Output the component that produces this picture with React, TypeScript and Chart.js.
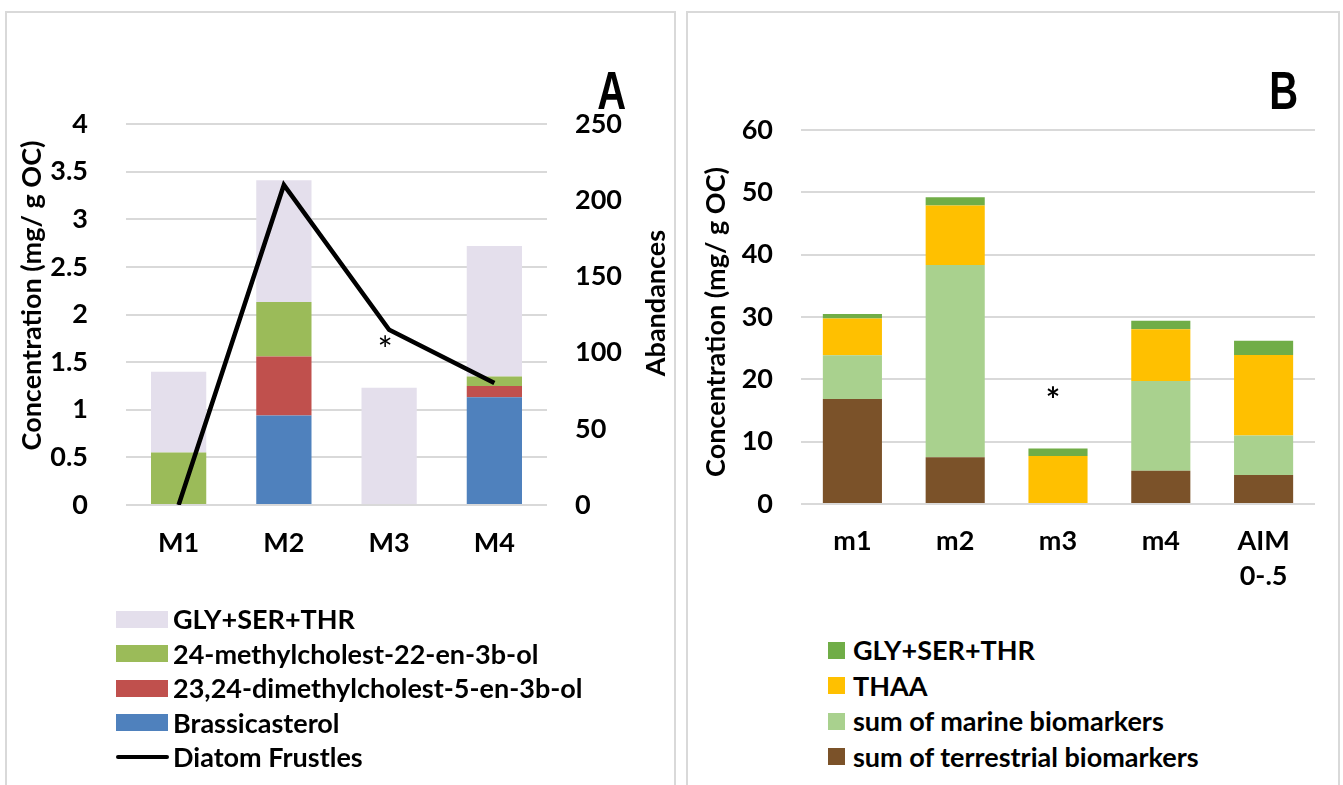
import React, { useEffect, useRef } from 'react';
import { Chart, registerables } from 'chart.js';

Chart.register(...registerables);

const FAMILY = 'Lato, "Open Sans", "Noto Sans", sans-serif';
const LETTER_FAMILY = '"Liberation Sans", Arial, sans-serif';

// ---------- Panel A data ----------
const categoriesA = ['M1', 'M2', 'M3', 'M4'];
const brassicasterol = [0, 0.94, 0, 1.13];
const dimethylcholestenol = [0, 0.62, 0, 0.12];
const methylcholestenol = [0.55, 0.57, 0, 0.1];
const glySerThrA = [0.85, 1.28, 1.23, 1.37];
const diatomFrustles = [0, 210, 115, 80];
const leftTicksA = [0, 0.5, 1, 1.5, 2, 2.5, 3, 3.5, 4];
const rightTicksA = [0, 50, 100, 150, 200, 250];

// ---------- Panel B data ----------
const categoriesB: (string | string[])[] = ['m1', 'm2', 'm3', 'm4', ['AIM', '0-.5']];
const terrestrial = [16.85, 7.5, 0, 5.35, 4.65];
const marine = [7.0, 30.85, 0, 14.4, 6.35];
const thaa = [5.9, 9.55, 7.7, 8.3, 12.9];
const glySerThrB = [0.75, 1.3, 1.2, 1.35, 2.3];
const ticksB = [0, 10, 20, 30, 40, 50, 60];

const COLORS_A = { gly: '#E4DFEC', methyl: '#9BBB59', dimethyl: '#C0504D', brassica: '#4F81BD', line: '#000000' };
const COLORS_B = { gly: '#70AD47', thaa: '#FFC000', marine: '#A9D18E', terr: '#7B5229' };
const GRID = '#D9D9D9';

function fitFontSize(): number {
  try {
    const c = document.createElement('canvas').getContext('2d');
    if (!c) return 26;
    c.font = `bold 100px ${FAMILY}`;
    const w = c.measureText('Concentration (mg/ g OC)').width;
    if (!w) return 26;
    return (100 * 310) / w;
  } catch (e) {
    return 26;
  }
}
const FS = fitFontSize();

Chart.defaults.color = '#000';
Chart.defaults.font.family = FAMILY;

const tickLabel = (list: number[]) => (v: any) => (list.includes(Number(v)) ? String(Number(v)) : '');

const decorPlugin = {
  id: 'decor',
  afterDatasetsDraw(chart: any, _args: any, opts: any) {
    const { ctx, chartArea: ca, scales } = chart;
    ctx.save();
    ctx.fillStyle = '#000';
    (opts.vtitles || []).forEach((t: any) => {
      ctx.save();
      ctx.font = `bold ${FS}px ${FAMILY}`;
      const x = t.side === 'left' ? ca.left + t.dx : ca.right + t.dx;
      const y = (ca.top + ca.bottom) / 2 + t.dy;
      ctx.translate(x, y);
      ctx.rotate(-Math.PI / 2);
      ctx.textAlign = 'center';
      ctx.textBaseline = 'middle';
      ctx.fillText(t.text, 0, 0);
      ctx.restore();
    });
    if (opts.letter) {
      const l = opts.letter;
      ctx.save();
      ctx.font = `bold ${l.size}px ${LETTER_FAMILY}`;
      ctx.textAlign = 'right';
      ctx.textBaseline = 'alphabetic';
      ctx.translate(ca.right + l.dx, ca.top + l.dy);
      ctx.scale(l.sx, 1);
      ctx.fillText(l.text, 0, 0);
      ctx.restore();
    }
    if (opts.asterisk) {
      const a = opts.asterisk;
      ctx.font = `${a.weight} ${a.size}px ${FAMILY}`;
      ctx.textAlign = 'center';
      ctx.textBaseline = 'alphabetic';
      const m = ctx.measureText('*');
      const x = scales.x.getPixelForValue(a.index) + a.dx;
      const yc = scales[a.axis].getPixelForValue(a.value);
      const base = yc + (m.actualBoundingBoxAscent - m.actualBoundingBoxDescent) / 2;
      ctx.fillText('*', x, base);
    }
    ctx.restore();
  },
};

const tickFont = () => ({ family: FAMILY, size: FS, weight: 'bold' as const, lineHeight: 1.28 });

function configA(): any {
  return {
    type: 'bar',
    data: {
      labels: categoriesA,
      datasets: [
        {
          type: 'line',
          label: 'Diatom Frustles',
          data: diatomFrustles,
          yAxisID: 'y1',
          borderColor: COLORS_A.line,
          backgroundColor: COLORS_A.line,
          borderWidth: 4.5,
          pointRadius: 0,
          tension: 0,
          order: 0,
          borderJoinStyle: 'miter',
        },
        { label: 'Brassicasterol', data: brassicasterol, backgroundColor: COLORS_A.brassica, yAxisID: 'y', order: 1 },
        { label: '23,24-dimethylcholest-5-en-3b-ol', data: dimethylcholestenol, backgroundColor: COLORS_A.dimethyl, yAxisID: 'y', order: 1 },
        { label: '24-methylcholest-22-en-3b-ol', data: methylcholestenol, backgroundColor: COLORS_A.methyl, yAxisID: 'y', order: 1 },
        { label: 'GLY+SER+THR', data: glySerThrA, backgroundColor: COLORS_A.gly, yAxisID: 'y', order: 1 },
      ],
    },
    options: {
      responsive: false,
      animation: false,
      devicePixelRatio: 1,
      layout: { padding: { top: 112, left: 0, right: 0, bottom: 0 } },
      datasets: { bar: { categoryPercentage: 1, barPercentage: 0.525 } },
      plugins: {
        legend: { display: false },
        tooltip: { enabled: false },
        decor: {
          vtitles: [
            { side: 'left', text: 'Concentration (mg/ g OC)', dx: -94, dy: -19 },
            { side: 'right', text: 'Abandances', dx: 109, dy: -11.5 },
          ],
          letter: { text: 'A', size: 54, dx: 79, dy: -15, sx: 0.74 },
          asterisk: { index: 2, axis: 'y', value: 1.72, dx: -4, size: 36, weight: 'normal' },
        },
      },
      scales: {
        x: {
          stacked: true,
          grid: { display: false, drawTicks: false },
          border: { display: false },
          ticks: { font: tickFont(), color: '#000', padding: 21 },
          afterFit: (s: any) => { s.height = 107; },
        },
        y: {
          stacked: true,
          min: leftTicksA[0],
          max: leftTicksA[leftTicksA.length - 1],
          ticks: { stepSize: leftTicksA[1] - leftTicksA[0], padding: 38, font: tickFont(), color: '#000', callback: tickLabel(leftTicksA) },
          grid: { color: GRID, lineWidth: 2, drawTicks: false },
          border: { display: false },
          afterFit: (s: any) => { s.width = 120; },
        },
        y1: {
          position: 'right',
          min: rightTicksA[0],
          max: rightTicksA[rightTicksA.length - 1],
          ticks: { stepSize: rightTicksA[1] - rightTicksA[0], padding: 28, font: tickFont(), color: '#000', callback: tickLabel(rightTicksA) },
          grid: { display: false, drawTicks: false },
          border: { display: false },
          afterFit: (s: any) => { s.width = 128; },
        },
      },
    },
    plugins: [decorPlugin],
  };
}

function configB(): any {
  return {
    type: 'bar',
    data: {
      labels: categoriesB,
      datasets: [
        { label: 'sum of terrestrial biomarkers', data: terrestrial, backgroundColor: COLORS_B.terr },
        { label: 'sum of marine biomarkers', data: marine, backgroundColor: COLORS_B.marine },
        { label: 'THAA', data: thaa, backgroundColor: COLORS_B.thaa },
        { label: 'GLY+SER+THR', data: glySerThrB, backgroundColor: COLORS_B.gly },
      ],
    },
    options: {
      responsive: false,
      animation: false,
      devicePixelRatio: 1,
      layout: { padding: { top: 118, left: 0, right: 24, bottom: 0 } },
      datasets: { bar: { categoryPercentage: 1, barPercentage: 0.575 } },
      plugins: {
        legend: { display: false },
        tooltip: { enabled: false },
        decor: {
          vtitles: [{ side: 'left', text: 'Concentration (mg/ g OC)', dx: -85, dy: 5 }],
          letter: { text: 'B', size: 54, dx: -17, dy: -21.4, sx: 0.74 },
          asterisk: { index: 2, axis: 'y', value: 18.0, dx: -5, size: 34, weight: 'bold' },
        },
      },
      scales: {
        x: {
          stacked: true,
          grid: { display: false, drawTicks: false },
          border: { display: false },
          ticks: { font: tickFont(), color: '#000', padding: 20 },
          afterFit: (s: any) => { s.height = 108; },
        },
        y: {
          stacked: true,
          min: ticksB[0],
          max: ticksB[ticksB.length - 1],
          ticks: { stepSize: ticksB[1] - ticksB[0], padding: 28, font: tickFont(), color: '#000', callback: tickLabel(ticksB) },
          grid: { color: GRID, lineWidth: 2, drawTicks: false },
          border: { display: false },
          afterFit: (s: any) => { s.width = 114; },
        },
      },
    },
    plugins: [decorPlugin],
  };
}

const legendItemsA = [
  { label: 'GLY+SER+THR', color: COLORS_A.gly, kind: 'box' },
  { label: '24-methylcholest-22-en-3b-ol', color: COLORS_A.methyl, kind: 'box' },
  { label: '23,24-dimethylcholest-5-en-3b-ol', color: COLORS_A.dimethyl, kind: 'box' },
  { label: 'Brassicasterol', color: COLORS_A.brassica, kind: 'box' },
  { label: 'Diatom Frustles', color: COLORS_A.line, kind: 'line' },
];

const legendItemsB = [
  { label: 'GLY+SER+THR', color: COLORS_B.gly },
  { label: 'THAA', color: COLORS_B.thaa },
  { label: 'sum of marine biomarkers', color: COLORS_B.marine },
  { label: 'sum of terrestrial biomarkers', color: COLORS_B.terr },
];

const textStyle: React.CSSProperties = {
  fontFamily: FAMILY,
  fontWeight: 700,
  fontSize: FS,
  color: '#000',
  lineHeight: 1,
  whiteSpace: 'nowrap',
};

export default function App() {
  const refA = useRef<HTMLCanvasElement>(null);
  const refB = useRef<HTMLCanvasElement>(null);

  useEffect(() => {
    const a = new Chart(refA.current as HTMLCanvasElement, configA());
    const b = new Chart(refB.current as HTMLCanvasElement, configB());
    return () => {
      a.destroy();
      b.destroy();
    };
  }, []);

  return (
    <div style={{ position: 'fixed', left: 0, top: 0, width: 1343, height: 785, background: '#fff', overflow: 'hidden' }}>
      <div style={{ position: 'absolute', left: 5, top: 11, width: 671, height: 800, border: `2px solid ${GRID}`, boxSizing: 'border-box' }} />
      <div style={{ position: 'absolute', left: 686, top: 11, width: 654, height: 800, border: `2px solid ${GRID}`, boxSizing: 'border-box' }} />
      <canvas ref={refA} width={669} height={600} style={{ position: 'absolute', left: 6, top: 12, width: 669, height: 600 }} />
      <canvas ref={refB} width={652} height={600} style={{ position: 'absolute', left: 687, top: 12, width: 652, height: 600 }} />

      <div style={{ position: 'absolute', left: 116, top: 601.75 }}>
        {legendItemsA.map((it) => (
          <div key={it.label} style={{ display: 'flex', alignItems: 'center', height: 34.5 }}>
            {it.kind === 'box' ? (
              <div style={{ width: 52, height: 17, background: it.color, marginRight: 5 }} />
            ) : (
              <div style={{ width: 53, height: 4.5, background: it.color, borderRadius: 2.5, marginRight: 4 }} />
            )}
            <span style={textStyle}>{it.label}</span>
          </div>
        ))}
      </div>

      <div style={{ position: 'absolute', left: 828, top: 632.25 }}>
        {legendItemsB.map((it) => (
          <div key={it.label} style={{ display: 'flex', alignItems: 'center', height: 35.5 }}>
            <div style={{ width: 17, height: 17, background: it.color, marginRight: 8 }} />
            <span style={textStyle}>{it.label}</span>
          </div>
        ))}
      </div>
    </div>
  );
}
